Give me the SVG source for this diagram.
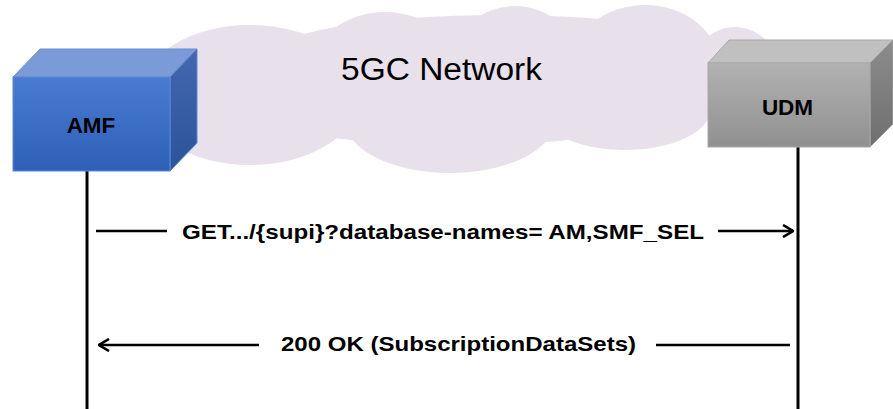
<svg xmlns="http://www.w3.org/2000/svg" width="893" height="409" viewBox="0 0 893 409">
<defs>
<linearGradient id="amfFront" x1="0" y1="0" x2="0" y2="1"><stop offset="0" stop-color="#4a7bd2"/><stop offset="1" stop-color="#2e60b8"/></linearGradient>
<linearGradient id="amfSide" x1="0" y1="0" x2="0" y2="1"><stop offset="0" stop-color="#4468b0"/><stop offset="1" stop-color="#2b5399"/></linearGradient>
<linearGradient id="udmFront" x1="0" y1="0" x2="0" y2="1"><stop offset="0" stop-color="#b2b2b2"/><stop offset="1" stop-color="#909090"/></linearGradient>
<linearGradient id="udmSide" x1="0" y1="0" x2="0" y2="1"><stop offset="0" stop-color="#8c8c8c"/><stop offset="1" stop-color="#6f6f6f"/></linearGradient>
<marker id="arrow" viewBox="0 0 12 14" refX="11" refY="7" markerWidth="12" markerHeight="14" markerUnits="userSpaceOnUse" orient="auto">
<path d="M1,1 L11,7 L1,13" fill="none" stroke="#000" stroke-width="2.6"/>
</marker>
<style>
.node{font-family:"Liberation Sans",Arial,sans-serif;font-weight:bold;font-size:22.5px;fill:#000;text-anchor:middle}
.msg{font-family:"Liberation Sans",Arial,sans-serif;font-weight:bold;font-size:20.5px;fill:#000}
.title{font-family:"Liberation Sans",Arial,sans-serif;font-size:31px;fill:#000;text-anchor:middle}
.life{stroke:#000;stroke-width:3}
.conn{stroke:#000;stroke-width:2.6;fill:none}
</style>
</defs>
<g id="cloud" fill="#e8e0ea">
<ellipse cx="250" cy="95" rx="110" ry="70"/>
<ellipse cx="385" cy="75" rx="75" ry="63"/>
<ellipse cx="515" cy="68" rx="65" ry="62"/>
<ellipse cx="645" cy="68" rx="75" ry="63"/>
<ellipse cx="735" cy="75" rx="45" ry="48"/>
<ellipse cx="450" cy="120" rx="105" ry="53"/>
<ellipse cx="625" cy="110" rx="85" ry="40"/>
<ellipse cx="460" cy="95" rx="250" ry="50"/>
<ellipse cx="500" cy="55" rx="230" ry="40"/>
<text class="title" x="441.5" y="80" textLength="201" lengthAdjust="spacingAndGlyphs">5GC Network</text>
</g>
<g id="lifelines">
<line class="life" x1="87" y1="171" x2="87" y2="409"/>
<line class="life" x1="798" y1="147" x2="798" y2="409"/>
</g>
<g id="AMF">
<polygon points="13,77 40,49 197,49 170,77" fill="#7a9ad8" stroke="#6a8fd6" stroke-width="1"/>
<polygon points="170,77 197,49 197,143 170,171" fill="url(#amfSide)" stroke="#5f87d2" stroke-width="1"/>
<rect x="13" y="77" width="157" height="94" fill="url(#amfFront)" stroke="#5f87d2" stroke-width="1"/>
<text class="node" x="91" y="133">AMF</text>
</g>
<g id="UDM">
<polygon points="708,63 729,40 893,40 870,63" fill="#c0c0c0" stroke="#a8a8a8" stroke-width="1"/>
<polygon points="870,63 893,40 893,124 870,147" fill="url(#udmSide)" stroke="#a0a0a0" stroke-width="1"/>
<rect x="708" y="63" width="162" height="84" fill="url(#udmFront)" stroke="#a8a8a8" stroke-width="1"/>
<text class="node" x="787.5" y="115">UDM</text>
</g>
<g id="connectors">
<line class="conn" x1="96" y1="231" x2="167" y2="231"/>
<line class="conn" x1="718" y1="231" x2="793" y2="231" marker-end="url(#arrow)"/>
<line class="conn" x1="259" y1="345" x2="99" y2="345" marker-end="url(#arrow)"/>
<line class="conn" x1="656" y1="345" x2="790" y2="345"/>
</g>
<g id="labels">
<text class="msg" x="182" y="239" textLength="522" lengthAdjust="spacingAndGlyphs">GET.../{supi}?database-names= AM,SMF_SEL</text>
<text class="msg" x="281" y="351" textLength="355" lengthAdjust="spacingAndGlyphs">200 OK (SubscriptionDataSets)</text>
</g>
</svg>
